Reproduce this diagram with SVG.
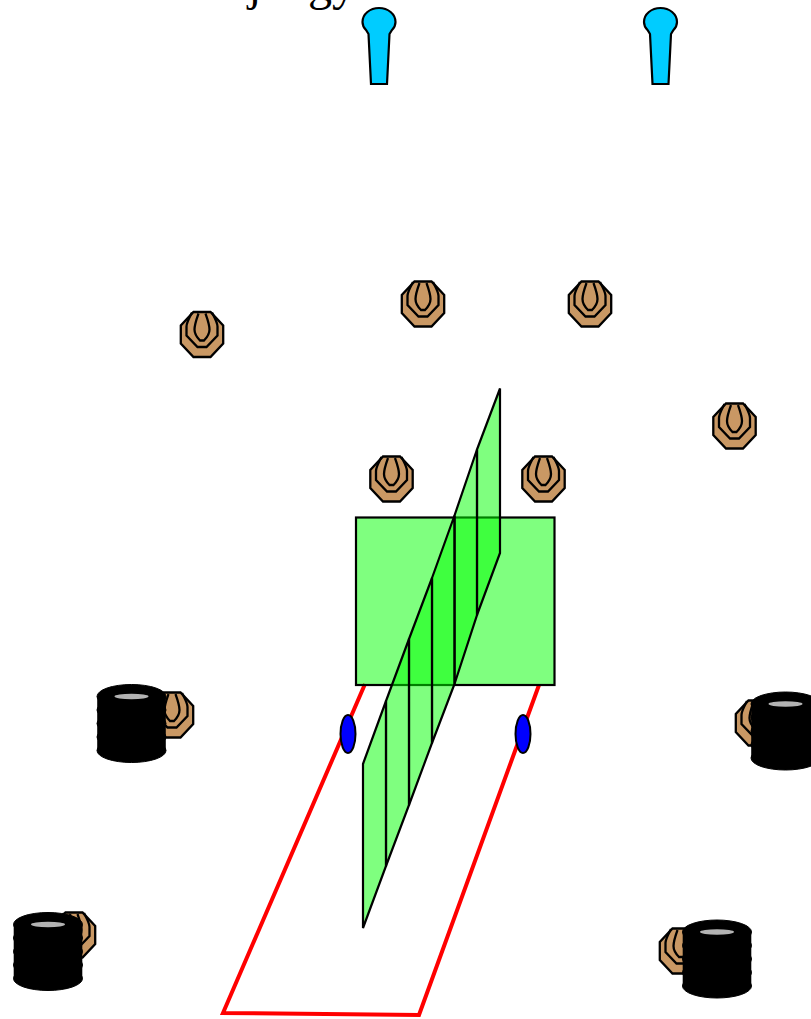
<svg xmlns="http://www.w3.org/2000/svg" width="811" height="1019" viewBox="0 0 811 1019">
<style>
.o{stroke:#000;stroke-width:2.3;stroke-linejoin:miter}
.t{fill:#c99864}
.i{fill:none}
.g{fill:#0f0;fill-opacity:.5;stroke:#000;stroke-width:2.2;stroke-linejoin:miter}
.r{fill:none;stroke:#f00;stroke-width:4}
.b{fill:#00f;stroke:#000;stroke-width:2}
.c{fill:#0cf;stroke:#000;stroke-width:2.2}
.s{stroke:#000;stroke-width:1}
.x{font-family:"Liberation Serif",serif;font-size:48px}
</style>
<defs>
<g id="site">
<path class="o t" d="M-8.500-22.500H8.500L21.200-9V9L8.500 22.500H-8.500L-21.200 9V-9Z"/>
<path class="o i" d="M-10-22C-13-16-15.500-12-15.500-8V1L-4.500 12.500H4.500L15.500 1V-8C15.500-12 13-16 10-22"/>
<path class="o i" d="M-3.500-21C-6-14-7.500-10-7.500-5C-7.500-1-4 4-2 6H2C4 4 7.500-1 7.500-5C7.500-10 6-14 3.500-21"/>
</g>
<g id="stack">
<ellipse class="s" cx="0" cy="-27" rx="34.500" ry="12"/>
<ellipse class="s" cx="0" cy="-13.500" rx="34.500" ry="12"/>
<ellipse class="s" cx="0" cy="0" rx="34.500" ry="12"/>
<ellipse class="s" cx="0" cy="13.500" rx="34.500" ry="12"/>
<ellipse class="s" cx="0" cy="27" rx="34.500" ry="12"/>
<rect x="-34.300" y="-27" width="68.600" height="54"/>
<ellipse cx="0" cy="-27" rx="17" ry="2.700" fill="#b3b3b3"/>
</g>
<path id="pin" class="c" d="M-8 84L-10.500 34L-13 30C-16 27-16.500 24-16.500 22C-16.500 14-9 8 0 8C9 8 16.500 14 16.500 22C16.500 24 16 27 13 30L10.500 34L8 84Z"/>
</defs>
<text class="x" y="0"><tspan x="248">j</tspan><tspan x="308">g</tspan><tspan x="332">y</tspan></text>
<g id="pin1"><use href="#pin" x="379"/></g>
<g id="pin2"><use href="#pin" x="660.500"/></g>
<g id="site1"><use href="#site" x="202" y="334.500"/></g>
<g id="site2"><use href="#site" x="423" y="304"/></g>
<g id="site3"><use href="#site" x="590" y="304"/></g>
<g id="site4"><use href="#site" x="734.500" y="426"/></g>
<g id="site5"><use href="#site" x="391.500" y="479"/></g>
<g id="site6"><use href="#site" x="543.500" y="479"/></g>
<g id="site7"><use href="#site" x="172" y="715"/></g>
<g id="site8"><use href="#site" x="757" y="723"/></g>
<g id="site9"><use href="#site" x="74" y="935"/></g>
<g id="site10"><use href="#site" x="681" y="951"/></g>
<g id="stack1"><use href="#stack" x="131.500" y="723.500"/></g>
<g id="stack2"><use href="#stack" x="785.500" y="731"/></g>
<g id="stack3"><use href="#stack" x="48" y="951.500"/></g>
<g id="stack4"><use href="#stack" x="717" y="959"/></g>
<g id="connectors">
<path class="r" d="M365 684L223 1013L419 1015L539 685"/>
</g>
<g id="plane"><rect class="g" x="356" y="517.500" width="198.500" height="167.500"/></g>
<g id="slices">
<path class="g" d="M477 449.500L500 388.500V553L477 615Z"/>
<path class="g" d="M454.500 515.500L477 449.500V615L454.500 684Z"/>
<path class="g" d="M432 578L454.500 515.500V684L432 743Z"/>
<path class="g" d="M409 639L432 578V743L409 805Z"/>
<path class="g" d="M386 701L409 639V805L386 866Z"/>
<path class="g" d="M363 764L386 701V866L363 928Z"/>
</g>
<g id="port1"><ellipse class="b" cx="348" cy="734" rx="7.500" ry="19"/></g>
<g id="port2"><ellipse class="b" cx="523" cy="734" rx="7.500" ry="19"/></g>
</svg>
